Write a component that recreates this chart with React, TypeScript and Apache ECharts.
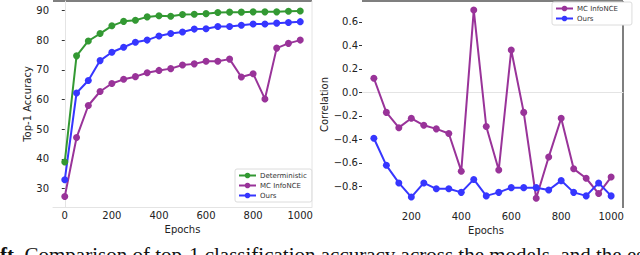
import React, { useEffect, useRef } from "react";
import * as echarts from "echarts";

const epochsLeft = [0, 50, 100, 150, 200, 250, 300, 350, 400, 450, 500, 550, 600, 650, 700, 750, 800, 850, 900, 950, 1000];
const deterministicAcc = [39.0, 74.7, 79.7, 82.2, 84.8, 86.3, 86.7, 87.8, 88.2, 88.0, 88.6, 88.7, 88.9, 89.3, 89.4, 89.4, 89.5, 89.5, 89.5, 89.7, 89.8];
const mcInfoNceAcc = [27.4, 47.2, 58.0, 62.7, 65.4, 66.8, 67.7, 69.0, 69.8, 70.4, 71.6, 72.0, 72.9, 72.9, 73.6, 67.6, 68.7, 60.2, 77.3, 78.9, 80.0];
const oursAcc = [33.0, 62.2, 66.4, 73.1, 75.9, 77.6, 79.3, 80.0, 81.4, 82.2, 82.7, 83.7, 83.8, 84.6, 84.6, 85.0, 85.4, 85.4, 85.7, 85.9, 86.2];

const epochsRight = [50, 100, 150, 200, 250, 300, 350, 400, 450, 500, 550, 600, 650, 700, 750, 800, 850, 900, 950, 1000];
const mcInfoNceCorr = [0.12, -0.17, -0.30, -0.22, -0.28, -0.31, -0.35, -0.67, 0.70, -0.29, -0.66, 0.36, -0.17, -0.90, -0.55, -0.22, -0.65, -0.73, -0.86, -0.72];
const oursCorr = [-0.39, -0.62, -0.77, -0.89, -0.77, -0.82, -0.82, -0.85, -0.74, -0.88, -0.85, -0.81, -0.81, -0.81, -0.83, -0.75, -0.85, -0.88, -0.77, -0.88];

const accTicks = [30, 40, 50, 60, 70, 80, 90];
const epochTicksLeft = [0, 200, 400, 600, 800, 1000];
const epochTicksRight = [200, 400, 600, 800, 1000];
const corrTicks = [-0.8, -0.6, -0.4, -0.2, 0, 0.2, 0.4, 0.6];

const captionText = "Comparison of top-1 classification accuracy across the models, and the estimated";

const GREEN = "#339933";
const PURPLE = "#993399";
const BLUE = "#3636ff";
const FONT = "DejaVu Sans";

function lineSeries(name: string, color: string, xs: number[], ys: number[], axisIdx: number) {
  return {
    type: "line",
    name,
    xAxisIndex: axisIdx,
    yAxisIndex: axisIdx,
    data: xs.map((x, i) => [x, ys[i]]),
    symbol: "circle",
    symbolSize: 7,
    showSymbol: true,
    lineStyle: { color, width: 2 },
    itemStyle: { color },
  };
}

export default function App() {
  const ref = useRef<HTMLDivElement>(null);
  useEffect(() => {
    if (!ref.current) return;
    const chart = echarts.init(ref.current, null, { renderer: "svg" });
    const labelStyle = { fontFamily: FONT, fontSize: 10, color: "#222" };
    const lightLine = { show: true, lineStyle: { color: "#e4e4e4", width: 1 } };
    const fmtCorr = (v: number) => {
      const r = Math.round(v * 10) / 10;
      return r < 0 ? "\u2212" + Math.abs(r).toFixed(1) : r.toFixed(1);
    };
    chart.setOption({
      animation: false,
      grid: [
        { left: 53, top: 1, width: 259, height: 206 },
        { left: 362, top: 1, width: 261, height: 207 },
      ],
      xAxis: [
        {
          type: "value", gridIndex: 0, min: -50, max: 1050,
          name: "Epochs", nameLocation: "middle", nameGap: 12,
          nameTextStyle: { fontFamily: FONT, fontSize: 10, color: "#222" },
          axisLine: lightLine, axisTick: { show: false },
          splitLine: { show: false },
          axisLabel: { ...labelStyle, margin: 3, customValues: epochTicksLeft, formatter: (v: number) => String(v) },
        },
        {
          type: "value", gridIndex: 1, min: 2.5, max: 1047.5,
          name: "Epochs", nameLocation: "middle", nameGap: 12,
          nameTextStyle: { fontFamily: FONT, fontSize: 10, color: "#222", padding: [0, 13, 0, 0] },
          axisLine: lightLine, axisTick: { show: false },
          splitLine: { show: false },
          axisLabel: { ...labelStyle, margin: 3, customValues: epochTicksRight, formatter: (v: number) => String(v) },
        },
      ],
      yAxis: [
        {
          type: "value", gridIndex: 0, min: 23.85, max: 93.15,
          name: "Top-1 Accuracy", nameLocation: "middle", nameGap: 17,
          nameTextStyle: { fontFamily: FONT, fontSize: 10, color: "#222" },
          axisLine: lightLine,
          axisTick: { show: true, length: 3, customValues: accTicks, lineStyle: { color: "#333" } },
          splitLine: { show: false },
          axisLabel: { ...labelStyle, margin: 4, customValues: accTicks, formatter: (v: number) => String(Math.round(v)) },
        },
        {
          type: "value", gridIndex: 1, min: -0.983, max: 0.777,
          name: "Correlation", nameLocation: "middle", nameGap: 19,
          nameTextStyle: { fontFamily: FONT, fontSize: 10, color: "#222" },
          axisLine: { show: false },
          axisTick: { show: true, length: 3, customValues: corrTicks, lineStyle: { color: "#333" } },
          splitLine: { show: false },
          axisLabel: { ...labelStyle, margin: 4, customValues: corrTicks, formatter: fmtCorr },
        },
      ],
      legend: [
        {
          data: ["Deterministic", "MC InfoNCE", "Ours"],
          orient: "vertical", left: 235, top: 169,
          itemWidth: 17, itemHeight: 7, itemGap: 3,
          padding: [3, 5, 3, 3],
          backgroundColor: "#fff", borderColor: "#dcdcdc", borderWidth: 1, borderRadius: 2,
          textStyle: { fontFamily: FONT, fontSize: 7, color: "#333", padding: [0, 0, 0, -1] },
          selectedMode: false,
        },
        {
          data: ["MC InfoNCE", "Ours"],
          orient: "vertical", left: 552, top: 2,
          itemWidth: 17, itemHeight: 7, itemGap: 3,
          padding: [3, 14, 3, 3],
          backgroundColor: "#fff", borderColor: "#dcdcdc", borderWidth: 1, borderRadius: 2,
          textStyle: { fontFamily: FONT, fontSize: 7, color: "#333", padding: [0, 0, 0, -1] },
          selectedMode: false,
        },
      ],
      series: [
        lineSeries("Deterministic", GREEN, epochsLeft, deterministicAcc, 0),
        lineSeries("MC InfoNCE", PURPLE, epochsLeft, mcInfoNceAcc, 0),
        lineSeries("Ours", BLUE, epochsLeft, oursAcc, 0),
        lineSeries("MC InfoNCE", PURPLE, epochsRight, mcInfoNceCorr, 1),
        lineSeries("Ours", BLUE, epochsRight, oursCorr, 1),
      ],
      graphic: [
        { type: "line", shape: { x1: 53, y1: 1, x2: 312, y2: 1 }, style: { stroke: "#555", lineWidth: 1.5 } },
        { type: "line", shape: { x1: 312, y1: 1, x2: 312, y2: 207 }, style: { stroke: "#e4e4e4", lineWidth: 1 } },
        { type: "line", shape: { x1: 362, y1: 1, x2: 623, y2: 1 }, style: { stroke: "#555", lineWidth: 1.5 } },
        { type: "line", shape: { x1: 623, y1: 1, x2: 623, y2: 208 }, style: { stroke: "#555", lineWidth: 1.5 } },
        {
          type: "text", x: 0, y: 244,
          style: {
            text: "{b|ft.} " + captionText,
            fontFamily: "Liberation Serif", fontSize: 21, fill: "#111",
            rich: { b: { fontFamily: "Liberation Serif", fontSize: 21, fontWeight: "bold" } },
          },
        },
      ],
    });
    return () => chart.dispose();
  }, []);
  return <div ref={ref} style={{ position: "absolute", left: 0, top: 0, width: 640, height: 255 }} />;
}
